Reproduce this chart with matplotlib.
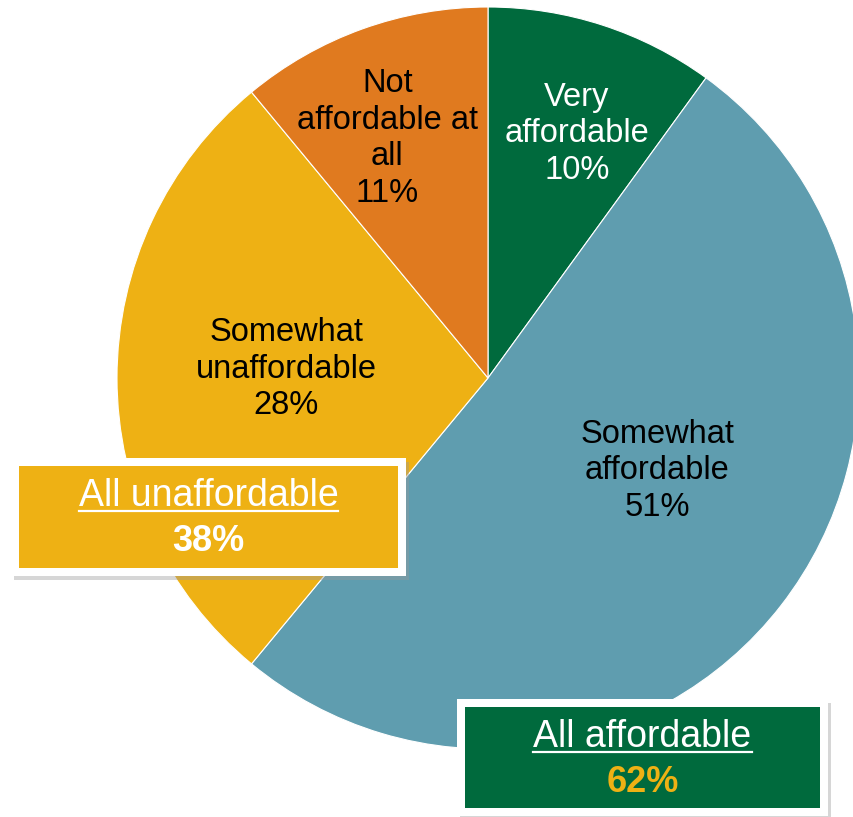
import numpy as np
import matplotlib.pyplot as plt
from matplotlib.patches import Rectangle

plt.rcParams['font.family'] = ['Liberation Sans', 'DejaVu Sans']

# data
labels = ['Very\naffordable\n10%', 'Somewhat\naffordable\n51%',
          'Somewhat\nunaffordable\n28%', 'Not\naffordable at\nall\n11%']
values = [10, 51, 28, 11]
colors = ['#006A3D', '#5F9DAF', '#EEB114', '#E07A1F']
text_colors = ['white', 'black', 'black', 'black']
summary_titles = ['All unaffordable', 'All affordable']
summary_values = ['38%', '62%']

W, H = 854, 817
fig = plt.figure(figsize=(W / 100, H / 100), dpi=100)
ax = fig.add_axes([0, 0, 1, 1])

cx, cy, R = 488, H - 378, 371
wedges, _ = ax.pie(values, colors=colors, startangle=90, counterclock=False,
                   center=(cx, cy), radius=R, frame=True,
                   wedgeprops=dict(edgecolor='white', linewidth=0.8))
ax.set_xlim(0, W)
ax.set_ylim(0, H)
ax.set_aspect('equal')
ax.axis('off')

# label placement inside wedges
dist = [0.70, 0.52, 0.545, 0.70]
shift = [-2, 9, -2.5, 3]
for w, lab, tc, d, s in zip(wedges, labels, text_colors, dist, shift):
    ang = np.deg2rad((w.theta1 + w.theta2) / 2 + s)
    ax.text(cx + d * R * np.cos(ang), cy + d * R * np.sin(ang), lab,
            ha='center', va='center', fontsize=23.5, color=tc, linespacing=1.24)

# summary boxes
boxes = [(11, H - 576, 395, 118, colors[2], 'white'),
         (457, H - 816, 371, 117, colors[0], colors[2])]
titles = []
for (x0, y0, bw, bh, fc, vc), title, val in zip(boxes, summary_titles, summary_values):
    ax.add_patch(Rectangle((x0 + 3, y0 - 4), bw, bh, facecolor='#999999',
                           alpha=0.4, edgecolor='none', zorder=4))
    ax.add_patch(Rectangle((x0, y0), bw, bh, facecolor='white',
                           edgecolor='none', zorder=5))
    ax.add_patch(Rectangle((x0 + 8, y0 + 8), bw - 16, bh - 16, facecolor=fc,
                           edgecolor='none', zorder=6))
    t = ax.text(x0 + bw / 2, y0 + bh * 0.675, title, ha='center', va='center',
                fontsize=27, color='white', zorder=7)
    ax.text(x0 + bw / 2, y0 + bh * 0.29, val, ha='center', va='center',
            fontsize=26, color=vc, fontweight='bold', zorder=7)
    titles.append(t)

# underline the box titles
fig.canvas.draw()
inv = ax.transData.inverted()
for t in titles:
    bb = t.get_window_extent()
    (xa, ya), (xb, yb) = inv.transform([(bb.x0, bb.y0), (bb.x1, bb.y1)])
    ax.plot([xa, xb], [ya + 3, ya + 3], color='white', lw=1.6, zorder=8)

fig.savefig('out.png', dpi=100)
